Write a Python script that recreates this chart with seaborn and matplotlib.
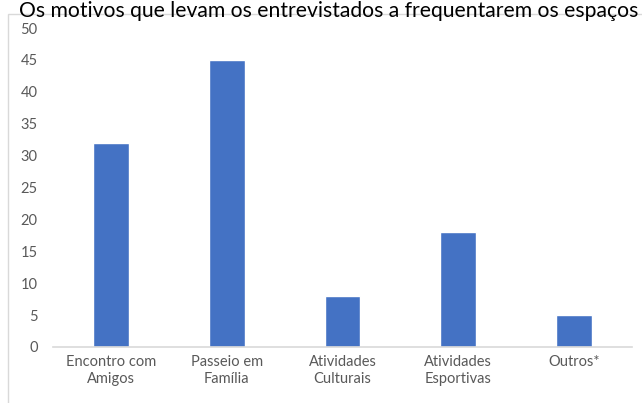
import matplotlib
matplotlib.use("Agg")
import matplotlib.pyplot as plt
import seaborn as sns
import pandas as pd
from matplotlib.patches import Rectangle

categories = ["Encontro com\nAmigos", "Passeio em\nFamília", "Atividades\nCulturais",
              "Atividades\nEsportivas", "Outros*"]
values = [32, 45, 8, 18, 5]
yticks = [0, 5, 10, 15, 20, 25, 30, 35, 40, 45, 50]
title = "Os motivos que levam os entrevistados a frequentarem os espaços"

sns.set_theme(style="white")
plt.rcParams["font.family"] = ["Lato", "DejaVu Sans"]

W, H = 642, 403
fig = plt.figure(figsize=(W / 100, H / 100), dpi=100)
fig.patch.set_facecolor("white")
ax = fig.add_axes([53 / W, 56 / H, 579 / W, 319 / H])

df = pd.DataFrame({"cat": categories, "val": values})
sns.barplot(data=df, x="cat", y="val", color="#4472C4", saturation=1,
            width=0.31, ax=ax)

ax.set_ylim(0, 50)
ax.set_xlim(-0.5, len(categories) - 0.5)
ax.set_yticks(yticks)
ax.set_xlabel("")
ax.set_ylabel("")
for s in ["top", "right", "left"]:
    ax.spines[s].set_visible(False)
ax.spines["bottom"].set_color("#d9d9d9")
ax.spines["bottom"].set_linewidth(1.2)
ax.tick_params(axis="y", length=0, pad=11, labelsize=10.5, labelcolor="#595959")
ax.tick_params(axis="x", length=0, pad=6, labelsize=10.5, labelcolor="#595959")
ax.grid(False)

# outer chart border
fig.patches.append(Rectangle((8 / W, -0.05), 1.0, (H - 14) / H + 0.05,
                             transform=fig.transFigure, fill=False,
                             edgecolor="#d9d9d9", linewidth=1.0))

fig.text(638 / W, (H - 1) / H, title, ha="right", va="top",
         fontsize=15.2, color="#000000")

fig.savefig("out.png", dpi=100)
